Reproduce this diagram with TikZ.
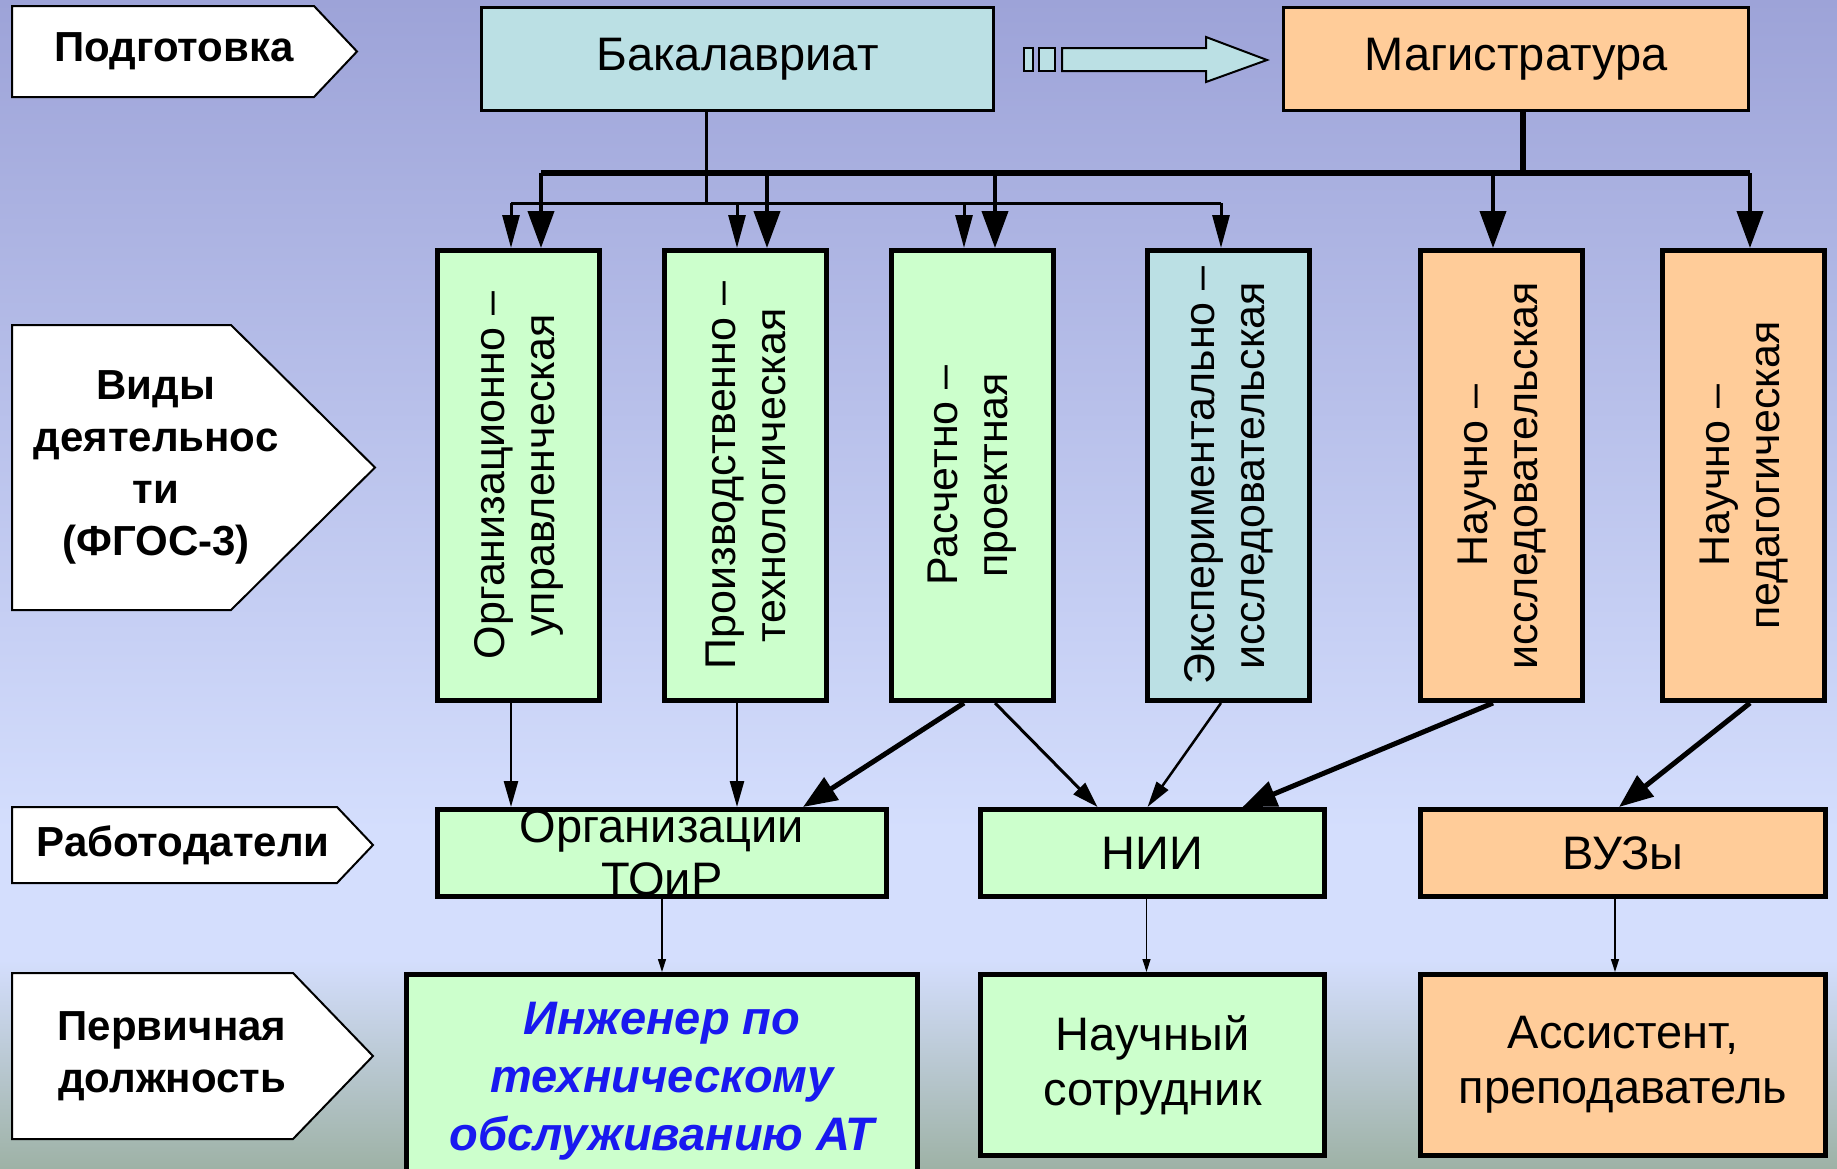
\documentclass[tikz,border=0pt]{standalone}
\usepackage{fontspec}
\setmainfont{Liberation Sans}
\usetikzlibrary{arrows.meta}
\usetikzlibrary{calc}

\definecolor{bgTop}{RGB}{157,163,216}
\definecolor{bgMid}{RGB}{212,222,253}
\definecolor{bgBot}{RGB}{158,178,166}
\definecolor{fillGreen}{RGB}{204,255,204}
\definecolor{fillCyan}{RGB}{187,224,228}
\definecolor{fillOrange}{RGB}{255,204,153}
\definecolor{textBlue}{RGB}{25,25,240}

\begin{document}
\begin{tikzpicture}
[x=1pt,y=-1pt,%
  labelDecorate/.style={draw,fill=white,line width=2pt},%
  labelText/.style={font=\fontsize{42}{52}\selectfont\bfseries,align=center,inner sep=0pt},%
  topDecorate/.style={draw,line width=2.5pt,inner sep=0pt,font=\fontsize{47}{55}\selectfont},%
  boxDecorate/.style={draw,line width=5pt,inner sep=0pt,align=center,font=\fontsize{47}{55}\selectfont},%
  sideText/.style={align=center,inner sep=0pt,font=\fontsize{43}{50}\selectfont},%
  blockDecorate/.style={draw,fill=fillCyan,line width=2pt,line join=miter},%
  busThick/.style={-,line width=6pt},%
  busThin/.style={-,line width=3pt},%
  arrowThick/.style={-{Triangle[length=37pt,width=26pt]},line width=4pt},%
  arrowThin/.style={-{Triangle[length=33pt,width=17pt]},line width=3pt},%
  arrowBig/.style={-{Triangle[length=34pt,width=26pt]},line width=5pt},%
  arrowMid/.style={-{Triangle[length=26pt,width=16pt]},line width=3pt},%
  arrowDown/.style={-{Triangle[length=26pt,width=14pt]},line width=2.5pt},%
  arrowSmall/.style={-{Triangle[length=13pt,width=8pt]},line width=1.3pt}]
%% background
\useasboundingbox (0,0) rectangle (1837,1168);
\shade[top color=bgTop,bottom color=bgMid] (0,0) rectangle (1837,830);
\fill[bgMid] (0,829) rectangle (1837,961);
\shade[top color=bgMid,bottom color=bgBot] (0,960) rectangle (1837,1168);
%% row labels on the left
\foreach \nodename/\ya/\yb/\xs/\xt/\xl/\txt in {
  prep/6/97/314/357/174/{Подготовка},
  kinds/325/610/231/375/156/{Виды\\деятельнос\\ти\\(ФГОС-3)},
  employ/807/883/337/373/183/{Работодатели},
  post/973/1139/293/373/172/{Первичная\\должность}}
{
  \draw[labelDecorate] (12,\ya) -- (\xs,\ya) -- (\xt,{(\ya+\yb)/2}) -- (\xs,\yb) -- (12,\yb) -- cycle;
  \node[labelText] (\nodename) at (\xl,{(\ya+\yb)/2}) {\txt};
}
%% training levels
\node[topDecorate,fill=fillCyan,minimum width=512,minimum height=103] (bak) at (737.5,59) {Бакалавриат};
\node[topDecorate,fill=fillOrange,minimum width=465,minimum height=103] (mag) at (1516,59) {Магистратура};
\draw[blockDecorate] (1024,48) rectangle (1033,71);
\draw[blockDecorate] (1039,48) rectangle (1055,71);
\draw[blockDecorate] (1062,48) -- (1206,48) -- (1206,37) -- (1267,60) -- (1206,82) -- (1206,71) -- (1062,71) -- cycle;
%% kinds of activity
\foreach \nodename/\x/\colour/\txt in {
  a1/518.5/fillGreen/{Организационно –\\управленческая},
  a2/745.5/fillGreen/{Производственно –\\технологическая},
  a3/972/fillGreen/{Расчетно –\\проектная},
  a4/1228.5/fillCyan/{Экспериментально –\\исследовательская},
  a5/1501.5/fillOrange/{Научно –\\исследовательская},
  a6/1743.5/fillOrange/{Научно –\\педагогическая}}
{
  \node[boxDecorate,fill=\colour,minimum width=162,minimum height=450] (\nodename) at (\x,475.5) {};
  \node[sideText,rotate=90] (\nodename-txt) at (\nodename.center) {\txt};
}
%% employers
\node[boxDecorate,fill=fillGreen,minimum width=449,minimum height=87] (org) at (662,853) {};
\node[boxDecorate,draw=none,fill=none,font=\fontsize{47}{53}\selectfont] (org-txt) at (org.center) {Организации\\ТОиР};
\node[boxDecorate,fill=fillGreen,minimum width=344,minimum height=87] (nii) at (1152.5,853) {НИИ};
\node[boxDecorate,fill=fillOrange,minimum width=405,minimum height=87] (vuz) at (1623,853) {ВУЗы};
%% first posts
\node[boxDecorate,fill=fillGreen,minimum width=511,minimum height=213,text=textBlue,font=\fontsize{47}{58}\selectfont\bfseries\itshape] (eng) at (662,1081) {Инженер по\\техническому\\обслуживанию АТ};
\node[boxDecorate,fill=fillGreen,minimum width=344,minimum height=181] (sci) at (1152.5,1065) {Научный\\сотрудник};
\node[boxDecorate,fill=fillOrange,minimum width=405,minimum height=181] (asst) at (1623,1065) {Ассистент,\\преподаватель};
%% buses from the training levels
\coordinate (mTop) at (1523,173);
\coordinate (bTop) at (706,203);
\foreach \n/\x in {1/541,2/767,3/995,5/1493,6/1750}
  \coordinate (m\n) at (\x,173);
\foreach \n/\x in {1/511,2/737,3/964,4/1221}
  \coordinate (b\n) at (\x,203);
\draw[busThin] (bak.south -| bTop) -- (bTop);
\draw[busThin] (b1) -- (b4);
\foreach \n in {1,2,3,4}
  \draw[arrowThin] (b\n) -- (b\n |- a\n.north);
\draw[busThick] (mag.south -| mTop) -- (mTop);
\draw[busThick] (m1) -- (m6);
\foreach \n in {1,2,3,5,6}
  \draw[arrowThick] (m\n) -- (m\n |- a\n.north);
%% activity to employers
\draw[arrowDown] (b1 |- a1.south) -- (b1 |- org.north);
\draw[arrowDown] (b2 |- a2.south) -- (b2 |- org.north);
\draw[arrowBig] (b3 |- a3.south) -- ($(org.north)+(141,0)$);
\draw[arrowMid] (m3 |- a3.south) -- ($(nii.north)+(-55,0)$);
\draw[arrowDown] (b4 |- a4.south) -- ($(nii.north)+(-5,0)$);
\draw[arrowBig] (m5 |- a5.south) -- ($(nii.north)+(90,0)$);
\draw[arrowBig] (m6 |- a6.south) -- ($(vuz.north)+(-4,0)$);
%% employers to posts
\draw[arrowSmall] (org.south) -- (eng.north);
\draw[arrowSmall] ($(nii.south)+(-6,0)$) -- ($(sci.north)+(-6,0)$);
\draw[arrowSmall] ($(vuz.south)+(-8,0)$) -- ($(asst.north)+(-8,0)$);
\end{tikzpicture}
\end{document}
